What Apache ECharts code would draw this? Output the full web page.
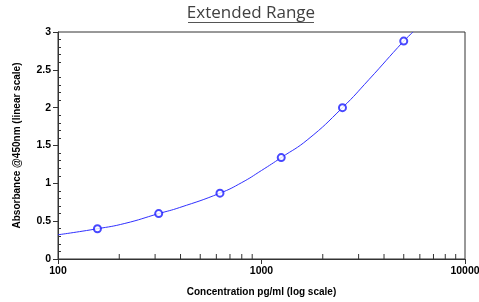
<!DOCTYPE html>
<html>
<head>
<meta charset="utf-8">
<script src="https://cdn.jsdelivr.net/npm/echarts@6/dist/echarts.min.js"></script>
<style>
  html, body { margin: 0; padding: 0; background: #fff; }
  #chart { width: 479px; height: 302px; }
</style>
</head>
<body>
<div id="chart"></div>
<script>
// standards (pg/ml) and their absorbance
var concentration = [156.25, 312.5, 625, 1250, 2500, 5000]
var absorbance = [0.40, 0.60, 0.87, 1.34, 2.00, 2.88]

// fitted curve, points
var curveConc = [100, 156.25, 213, 312.5, 396, 625, 800, 1000, 1250, 1690, 2500, 3370, 5000, 5560]
var curveAbs = [0.32, 0.40, 0.47, 0.60, 0.68, 0.87, 1.01, 1.17, 1.34, 1.58, 2.00, 2.37, 2.88, 3.00]

// minor ticks of the log axis
var xMinorTicks = [200, 300, 400, 500, 600, 700, 800, 900, 2000, 3000, 4000, 5000, 6000, 7000, 8000, 9000]

var chart = echarts.init(document.getElementById('chart'))

var axisColor = '#333'
var labelStyle = {
  color: '#000',
  fontFamily: 'Liberation Sans, Arial, sans-serif',
  fontWeight: 'bold',
  fontSize: 10.5
}

chart.setOption({
  animation: false,
  graphic: [
    {
      type: 'text',
      x: 251,
      y: 13,
      style: {
        text: 'Extended Range',
        fill: '#404040',
        font: '17px "Open Sans", "Noto Sans", sans-serif',
        align: 'center',
        verticalAlign: 'middle'
      }
    },
    {
      type: 'line',
      shape: { x1: 188, y1: 22.5, x2: 314, y2: 22.5 },
      style: { stroke: '#555', lineWidth: 1 }
    }
  ],
  grid: {
    left: 58,
    right: 14,
    top: 32,
    bottom: 43,
    outerBoundsMode: 'none',
    show: true,
    borderColor: axisColor,
    borderWidth: 1
  },
  xAxis: {
    type: 'log',
    logBase: 10,
    min: 100,
    max: 10000,
    name: 'Concentration pg/ml (log scale)',
    nameLocation: 'middle',
    nameGap: 28,
    nameTextStyle: {
      color: '#000',
      fontFamily: 'Liberation Sans, Arial, sans-serif',
      fontWeight: 'bold',
      fontSize: 10
    },
    axisLine: { lineStyle: { color: axisColor, width: 1 } },
    axisTick: { length: 5, lineStyle: { color: axisColor } },
    axisLabel: Object.assign({
      margin: 7,
      formatter: function (v) { return String(Math.round(v)) }
    }, labelStyle),
    splitLine: { show: false }
  },
  yAxis: [
    {
      type: 'value',
      min: 0,
      max: 3,
      interval: 0.5,
      name: 'Absorbance @450nm (linear scale)',
      nameLocation: 'middle',
      nameGap: 36,
      nameTextStyle: {
        color: '#000',
        fontFamily: 'Liberation Sans, Arial, sans-serif',
        fontWeight: 'bold',
        fontSize: 10
      },
      axisLine: { show: true, lineStyle: { color: axisColor, width: 1 } },
      axisTick: { show: true, length: 5, lineStyle: { color: axisColor } },
      axisLabel: Object.assign({ margin: 7 }, labelStyle),
      splitLine: { show: false }
    },
    {
      // second copy of the axis only for the inward minor ticks
      type: 'value',
      min: 0,
      max: 3,
      interval: 0.5,
      position: 'left',
      axisLine: { show: false },
      axisTick: { show: false, inside: true },
      minorTick: { show: true, splitNumber: 5, length: 3, lineStyle: { color: axisColor } },
      axisLabel: { show: false },
      splitLine: { show: false }
    }
  ],
  series: [
    {
      type: 'line',
      data: curveConc.map(function (c, i) { return [c, curveAbs[i]] }),
      smooth: true,
      showSymbol: false,
      lineStyle: { color: '#3030ff', width: 1 },
      silent: true,
      z: 2
    },
    {
      type: 'scatter',
      data: concentration.map(function (c, i) { return [c, absorbance[i]] }),
      symbol: 'emptyCircle',
      symbolSize: 7,
      itemStyle: { color: '#1a1aff', borderWidth: 1.2 },
      z: 3
    },
    {
      type: 'custom',
      data: xMinorTicks.map(function (v) { return [v, 0] }),
      clip: false,
      silent: true,
      renderItem: function (params, api) {
        var p = api.coord([api.value(0), 0])
        return {
          type: 'line',
          shape: { x1: p[0], y1: p[1], x2: p[0], y2: p[1] - 5 },
          style: { stroke: axisColor, lineWidth: 1 }
        }
      }
    }
  ]
})
</script>
</body>
</html>
